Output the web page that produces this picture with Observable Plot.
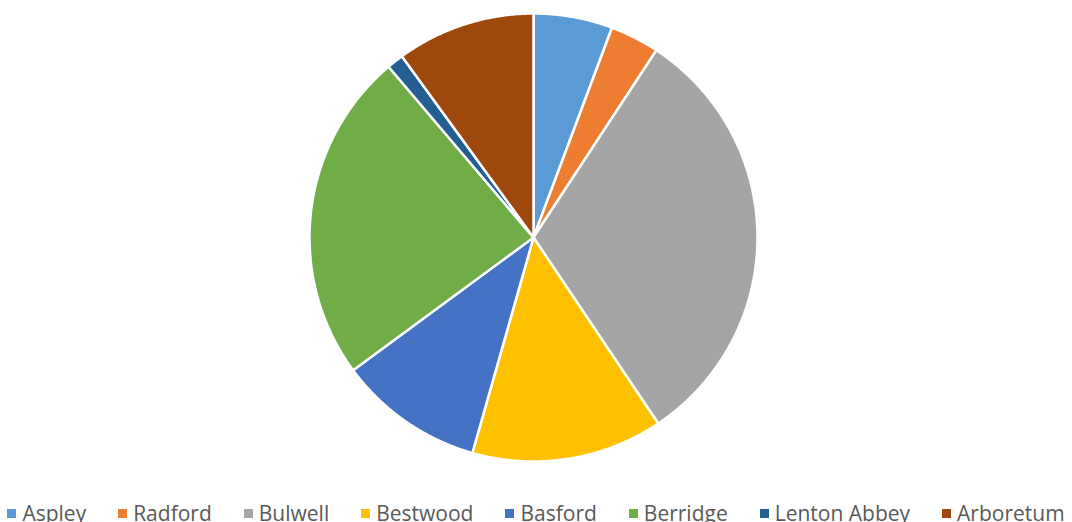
<!DOCTYPE html>
<html>
<head>
<meta charset="utf-8">
<script src="https://cdn.jsdelivr.net/npm/d3@7"></script>
<script src="https://cdn.jsdelivr.net/npm/@observablehq/plot@0.6"></script>
<style>
  html, body { margin: 0; padding: 0; background: #fff; width: 1072px; height: 522px; overflow: hidden; }
  #chart svg { display: block; }
  #legend { display: flex; justify-content: center; align-items: center; gap: 32px;
    font-family: "Open Sans", sans-serif; font-size: 21px; color: #595959; height: 32px; line-height: 32px; margin-top: 7px; }
  .item { display: flex; align-items: center; white-space: nowrap; }
  .sw { width: 9px; height: 9px; margin-right: 6px; }
</style>
</head>
<body>
<div id="chart"></div>
<div id="legend"></div>
<script>
const names = ["Aspley", "Radford", "Bulwell", "Bestwood", "Basford", "Berridge", "Lenton Abbey", "Arboretum"];
const values = [5.7, 3.55, 31.35, 13.8, 10.5, 23.9, 1.2, 10.0];
const colors = ["#5B9BD5", "#ED7D31", "#A5A5A5", "#FFC000", "#4472C4", "#70AD47", "#255E91", "#9E480E"];

const arcs = d3.pie().sort(null).value(d => d)(values);
const pts = [];
arcs.forEach((a, i) => {
  const n = Math.max(2, Math.ceil((a.endAngle - a.startAngle) / 0.005));
  pts.push({name: names[i], x: 0, y: 0});
  for (let k = 0; k <= n; k++) {
    const t = a.startAngle + (a.endAngle - a.startAngle) * k / n;
    pts.push({name: names[i], x: Math.sin(t), y: Math.cos(t)});
  }
  pts.push({name: names[i], x: 0, y: 0});
});

const plot = Plot.plot({
  width: 1072,
  height: 490,
  marginLeft: 309,
  marginRight: 315,
  marginTop: 13,
  marginBottom: 29,
  x: {domain: [-1, 1], axis: null},
  y: {domain: [-1, 1], axis: null},
  color: {domain: names, range: colors},
  marks: [
    Plot.line(pts, {x: "x", y: "y", z: "name", fill: "name", stroke: "white", strokeWidth: 2.5, strokeLinejoin: "round", curve: "linear"})
  ]
});
document.getElementById("chart").appendChild(plot);

const legend = document.getElementById("legend");
names.forEach((n, i) => {
  const it = document.createElement("div");
  it.className = "item";
  const sw = document.createElement("span");
  sw.className = "sw";
  sw.style.background = colors[i];
  it.appendChild(sw);
  it.appendChild(document.createTextNode(n));
  legend.appendChild(it);
});
</script>
</body>
</html>
